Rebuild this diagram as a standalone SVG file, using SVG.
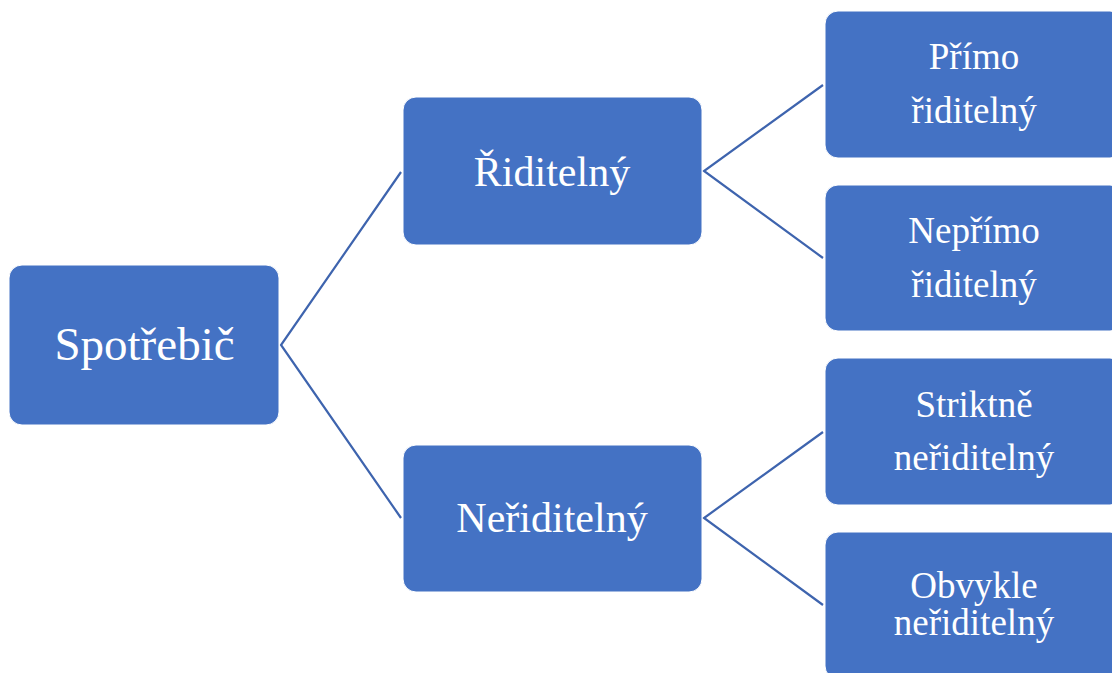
<svg xmlns="http://www.w3.org/2000/svg" width="1112" height="673" viewBox="0 0 1112 673">
<style>
.box{fill:#4472C4;stroke:#ffffff;stroke-width:1}
.t{fill:#ffffff;text-anchor:middle}
.c{stroke:#3E64AE;stroke-width:2.2;fill:none}
</style>
<rect width="1112" height="673" fill="#ffffff"/>
<g id="connectors">
<polyline class="c" points="401,172 281,345 401,518"/>
<polyline class="c" points="823,85 704,171 823,258"/>
<polyline class="c" points="823,432 704,518 823,605"/>
</g>
<g font-family="'Liberation Serif', 'Times New Roman', Tinos, 'DejaVu Serif', serif">
<g id="spotrebic">
<rect class="box" x="9" y="265" width="270" height="160" rx="13"/>
<text class="t" x="144.5" y="360" font-size="47">Spotřebič</text>
</g>
<g id="riditelny">
<rect class="box" x="403" y="97" width="299" height="148" rx="13"/>
<text class="t" x="552" y="186" font-size="42">Řiditelný</text>
</g>
<g id="neriditelny">
<rect class="box" x="403" y="445" width="299" height="147" rx="13"/>
<text class="t" x="552" y="532" font-size="42">Neřiditelný</text>
</g>
<g id="primo">
<rect class="box" x="825" y="11" width="298" height="147" rx="13"/>
<text class="t" x="974" y="69" font-size="37">Přímo</text>
<text class="t" x="974" y="123" font-size="37">řiditelný</text>
</g>
<g id="neprimo">
<rect class="box" x="825" y="185" width="298" height="146" rx="13"/>
<text class="t" x="974" y="243" font-size="37">Nepřímo</text>
<text class="t" x="974" y="297" font-size="37">řiditelný</text>
</g>
<g id="striktne">
<rect class="box" x="825" y="358" width="298" height="147" rx="13"/>
<text class="t" x="974" y="417" font-size="37">Striktně</text>
<text class="t" x="974" y="470" font-size="37">neřiditelný</text>
</g>
<g id="obvykle">
<rect class="box" x="825" y="532" width="298" height="147" rx="13"/>
<text class="t" x="974" y="598" font-size="37">Obvykle</text>
<text class="t" x="974" y="635" font-size="37">neřiditelný</text>
</g>
</g>
</svg>
